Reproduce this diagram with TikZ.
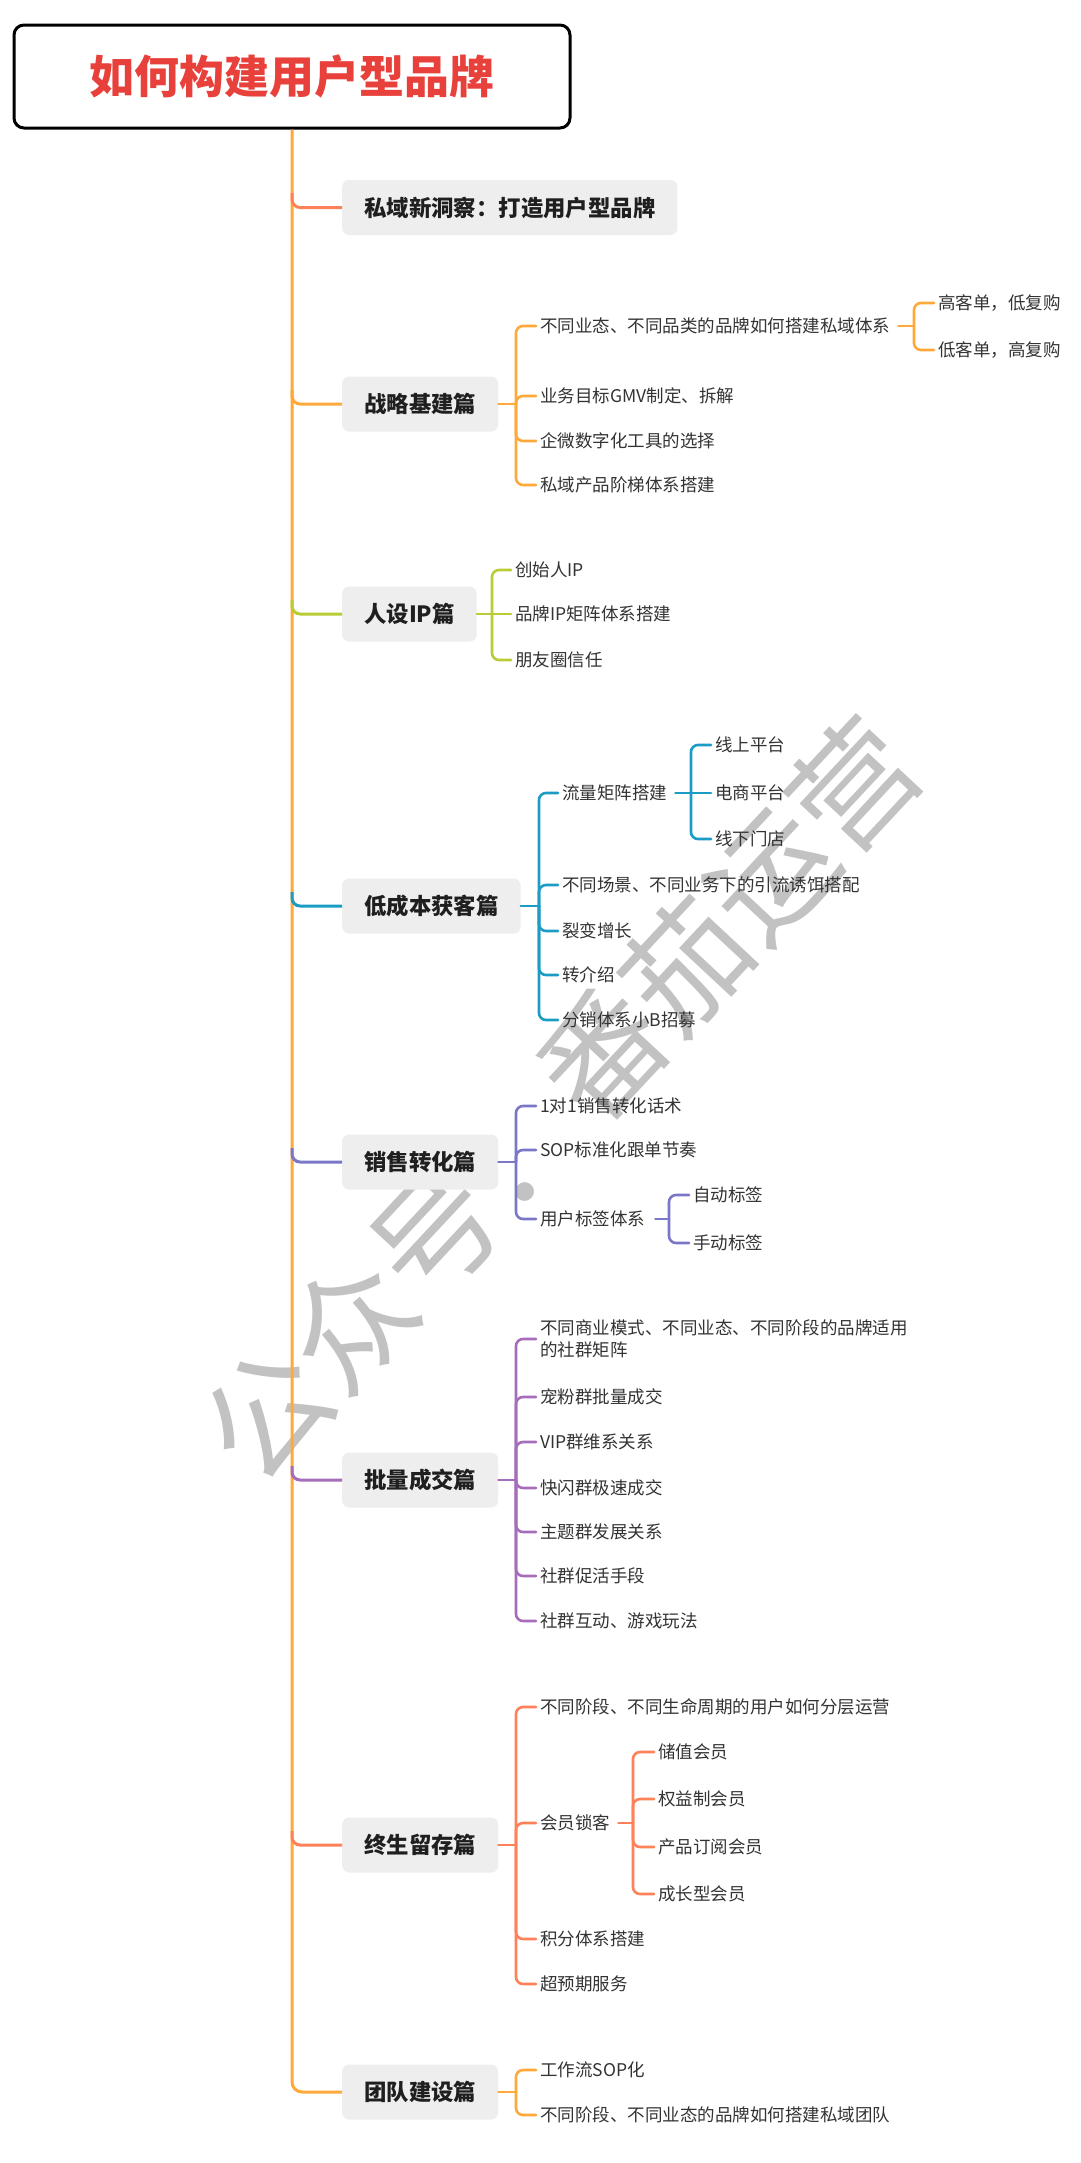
\documentclass[tikz,border=0pt]{standalone}
\usepackage{fontspec}
\setmainfont{Noto Sans CJK SC}
\usetikzlibrary{calc}
\definecolor{cOrange}{HTML}{FFA93A}
\definecolor{cCoral}{HTML}{FF8159}
\definecolor{cLime}{HTML}{BACC33}
\definecolor{cTeal}{HTML}{1B9CC4}
\definecolor{cIndigo}{HTML}{7A76C8}
\definecolor{cPurple}{HTML}{A66DBA}
\definecolor{boxgray}{HTML}{EEEEEE}
\definecolor{txtdark}{HTML}{1F1F1F}
\definecolor{txtgray}{HTML}{333333}
\definecolor{titlered}{HTML}{E8403A}
\definecolor{wmgray}{HTML}{C2C2C2}
\begin{document}
\begin{tikzpicture}[x=1pt,y=-1pt,
  l1/.style={fill=boxgray, rounded corners=7pt, minimum height=55pt, inner xsep=22pt, inner ysep=0pt, anchor=west, text=txtdark, font=\fontsize{22.4}{26}\selectfont\bfseries},
  l2/.style={anchor=west, inner xsep=4pt, inner ysep=1pt, text=txtgray, font=\fontsize{17.5}{22}\selectfont},
  trunkline/.style={line width=3pt, rounded corners=10pt},
  brline/.style={line width=3pt, rounded corners=8pt},
  subline/.style={line width=2.6pt, rounded corners=7pt, line cap=round},
]
\useasboundingbox (0,0) rectangle (1080,2163);
\fill[white] (0,0) rectangle (1080,2163);

% watermark (beneath everything)
\node[rotate=47, text=wmgray, inner sep=0pt, font=\fontsize{123}{123}\selectfont] (wm) at (560,1099) {公众号：番茄运营};

% title
\node[draw=black, line width=3pt, rounded corners=10pt, fill=white, minimum width=556pt, minimum height=103pt, inner sep=0pt, text=titlered, font=\fontsize{45}{50}\selectfont\bfseries] (title) at (292,76.5) {如何构建用户型品牌};

% level-1 nodes
\node[l1] (b1) at (342,207.5) {私域新洞察：打造用户型品牌};
\node[l1] (b2) at (342,404) {战略基建篇};
\node[l1] (b3) at (342,614) {人设IP篇};
\node[l1] (b4) at (342,906) {低成本获客篇};
\node[l1] (b5) at (342,1162) {销售转化篇};
\node[l1] (b6) at (342,1480) {批量成交篇};
\node[l1] (b7) at (342,1845) {终生留存篇};
\node[l1] (b8) at (342,2092) {团队建设篇};

% trunk and branches
\draw[trunkline, cOrange] (title.south) |- (b8.west);
\coordinate (t1) at (292,193);
\coordinate (t2) at (292,390);
\coordinate (t3) at (292,600);
\coordinate (t4) at (292,892);
\coordinate (t5) at (292,1148);
\coordinate (t6) at (292,1466);
\coordinate (t7) at (292,1831);
\draw[brline, cCoral] (t1) |- (b1.west);
\draw[brline, cOrange] (t2) |- (b2.west);
\draw[brline, cLime] (t3) |- (b3.west);
\draw[brline, cTeal] (t4) |- (b4.west);
\draw[brline, cIndigo] (t5) |- (b5.west);
\draw[brline, cPurple] (t6) |- (b6.west);
\draw[brline, cCoral] (t7) |- (b7.west);

% ---- 战略基建篇
\node[l2] (a21) at (536,326) {不同业态、不同品类的品牌如何搭建私域体系};
\node[l2] (a22) at (536,396) {业务目标GMV制定、拆解};
\node[l2] (a23) at (536,441) {企微数字化工具的选择};
\node[l2] (a24) at (536,485) {私域产品阶梯体系搭建};
\coordinate (s2) at (516,404);
\draw[subline, cOrange] (b2.east) -- (s2);
\foreach \n in {a21,a22,a23,a24} \draw[subline, cOrange] (s2) |- (\n.west);
\node[l2] (a211) at (934,303) {高客单，低复购};
\node[l2] (a212) at (934,350) {低客单，高复购};
\coordinate (s21) at (914,326);
\draw[subline, cOrange] ([xshift=4pt]a21.east) -- (s21);
\foreach \n in {a211,a212} \draw[subline, cOrange] (s21) |- (\n.west);

% ---- 人设IP篇
\node[l2] (a31) at (511,570) {创始人IP};
\node[l2] (a32) at (511,614) {品牌IP矩阵体系搭建};
\node[l2] (a33) at (511,660) {朋友圈信任};
\coordinate (s3) at (492,614);
\draw[subline, cLime] (b3.east) -- (a32.west);
\foreach \n in {a31,a33} \draw[subline, cLime] (s3) |- (\n.west);

% ---- 低成本获客篇
\node[l2] (a41) at (558,793) {流量矩阵搭建};
\node[l2] (a42) at (558,885) {不同场景、不同业务下的引流诱饵搭配};
\node[l2] (a43) at (558,931) {裂变增长};
\node[l2] (a44) at (558,975) {转介绍};
\node[l2] (a45) at (558,1020) {分销体系小B招募};
\coordinate (s4) at (539,906);
\draw[subline, cTeal] (b4.east) -- (s4);
\foreach \n in {a41,a42,a43,a44,a45} \draw[subline, cTeal] (s4) |- (\n.west);
\node[l2] (a411) at (711,745) {线上平台};
\node[l2] (a412) at (711,793) {电商平台};
\node[l2] (a413) at (711,839) {线下门店};
\coordinate (s41) at (691,793);
\draw[subline, cTeal] ([xshift=4pt]a41.east) -- (a412.west);
\foreach \n in {a411,a413} \draw[subline, cTeal] (s41) |- (\n.west);

% ---- 销售转化篇
\node[l2] (a51) at (536,1106) {1对1销售转化话术};
\node[l2] (a52) at (536,1150) {SOP标准化跟单节奏};
\node[l2] (a53) at (536,1219) {用户标签体系};
\coordinate (s5) at (516,1162);
\draw[subline, cIndigo] (b5.east) -- (s5);
\foreach \n in {a51,a52,a53} \draw[subline, cIndigo] (s5) |- (\n.west);
\node[l2] (a531) at (689,1195) {自动标签};
\node[l2] (a532) at (689,1243) {手动标签};
\coordinate (s53) at (669,1219);
\draw[subline, cIndigo] ([xshift=6pt]a53.east) -- (s53);
\foreach \n in {a531,a532} \draw[subline, cIndigo] (s53) |- (\n.west);

% ---- 批量成交篇
\node[l2, align=left] (a61) at (536,1339) {不同商业模式、不同业态、不同阶段的品牌适用\\的社群矩阵};
\node[l2] (a62) at (536,1397) {宠粉群批量成交};
\node[l2] (a63) at (536,1442) {VIP群维系关系};
\node[l2] (a64) at (536,1488) {快闪群极速成交};
\node[l2] (a65) at (536,1532) {主题群发展关系};
\node[l2] (a66) at (536,1576) {社群促活手段};
\node[l2] (a67) at (536,1621) {社群互动、游戏玩法};
\coordinate (s6) at (516,1480);
\draw[subline, cPurple] (b6.east) -- (s6);
\foreach \n in {a61,a62,a63,a64,a65,a66,a67} \draw[subline, cPurple] (s6) |- (\n.west);

% ---- 终生留存篇
\node[l2] (a71) at (536,1707) {不同阶段、不同生命周期的用户如何分层运营};
\node[l2] (a72) at (536,1823) {会员锁客};
\node[l2] (a73) at (536,1939) {积分体系搭建};
\node[l2] (a74) at (536,1984) {超预期服务};
\coordinate (s7) at (516,1845);
\draw[subline, cCoral] (b7.east) -- (s7);
\foreach \n in {a71,a72,a73,a74} \draw[subline, cCoral] (s7) |- (\n.west);
\node[l2] (a721) at (654,1752) {储值会员};
\node[l2] (a722) at (654,1799) {权益制会员};
\node[l2] (a723) at (654,1847) {产品订阅会员};
\node[l2] (a724) at (654,1894) {成长型会员};
\coordinate (s72) at (633,1823);
\draw[subline, cCoral] ([xshift=4pt]a72.east) -- (s72);
\foreach \n in {a721,a722,a723,a724} \draw[subline, cCoral] (s72) |- (\n.west);

% ---- 团队建设篇
\node[l2] (a81) at (536,2070) {工作流SOP化};
\node[l2] (a82) at (536,2115) {不同阶段、不同业态的品牌如何搭建私域团队};
\coordinate (s8) at (516,2092);
\draw[subline, cOrange] (b8.east) -- (s8);
\foreach \n in {a81,a82} \draw[subline, cOrange] (s8) |- (\n.west);
\end{tikzpicture}
\end{document}
